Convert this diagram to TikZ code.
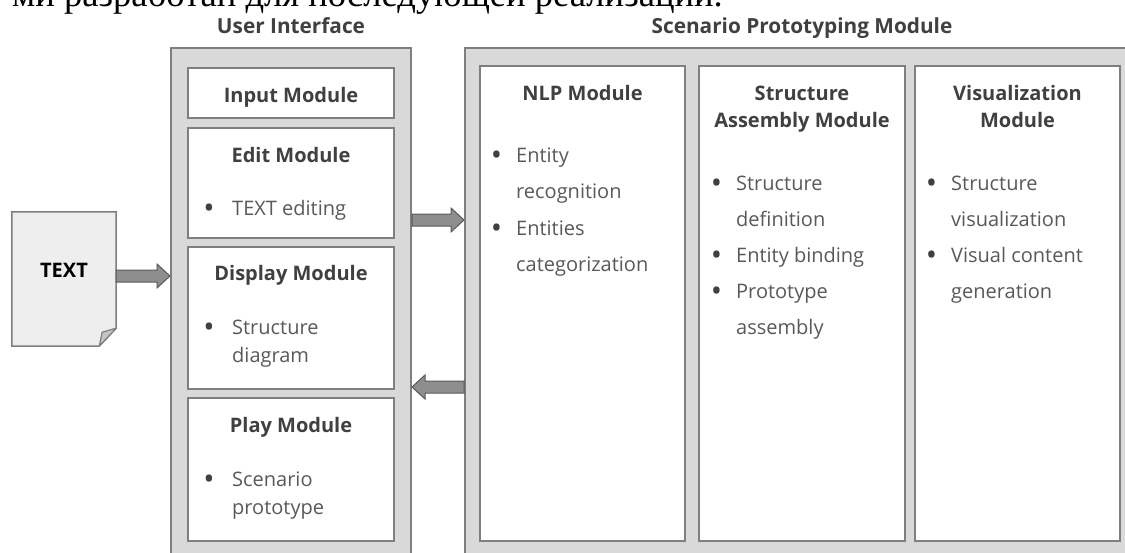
\documentclass[tikz,border=0pt]{standalone}
\usepackage{fontspec}
\setmainfont{Open Sans}
\newfontfamily\serifru{Liberation Serif}
\usetikzlibrary{calc}
\definecolor{outerfill}{HTML}{D9D9D9}
\definecolor{bordergray}{HTML}{7F7F7F}
\definecolor{headcol}{HTML}{404040}
\definecolor{bodycol}{HTML}{595959}
\definecolor{arrfill}{HTML}{8E8E8E}
\definecolor{arrdraw}{HTML}{5A5A5A}
\definecolor{docfill}{HTML}{EEEEEE}
\definecolor{foldfill}{HTML}{C4C4C4}
\tikzset{
  outerbox/.style={draw=bordergray, line width=2pt, fill=outerfill, inner sep=0pt},
  innerbox/.style={draw=bordergray, line width=1.5pt, fill=white, inner sep=0pt},
  head/.style={font=\fontsize{20}{27}\selectfont\bfseries, text=headcol, inner sep=0pt, anchor=base, align=center},
  title/.style={head, font=\fontsize{20.8}{27}\selectfont\bfseries},
  itemui/.style={font=\fontsize{20}{28}\selectfont, text=bodycol, inner sep=0pt, anchor=base west, align=left},
  itemsp/.style={font=\fontsize{20}{36}\selectfont, text=bodycol, inner sep=0pt, anchor=base west, align=left},
  blockarr/.style={fill=arrfill, draw=arrdraw, line width=1pt, line join=miter},
}
\newcommand\bul[1]{\llap{\raisebox{-3.2pt}{\textcolor{headcol}{\scalebox{1.5}{\textbullet}}}\hspace{#1pt}}}
\newcommand\blockR[2]{\draw[blockarr] ($(#1)+(0,-6)$) -- ($(#2)+(-13,-6)$) -- ($(#2)+(-13,-12)$) -- (#2) -- ($(#2)+(-13,12)$) -- ($(#2)+(-13,6)$) -- ($(#1)+(0,6)$) -- cycle;}
\newcommand\blockL[2]{\draw[blockarr] ($(#1)+(0,-6)$) -- ($(#2)+(13,-6)$) -- ($(#2)+(13,-12)$) -- (#2) -- ($(#2)+(13,12)$) -- ($(#2)+(13,6)$) -- ($(#1)+(0,6)$) -- cycle;}
\begin{document}
\begin{tikzpicture}[x=1pt,y=-1pt]
\useasboundingbox (0,0) rectangle (1125,552);
\clip (0,0) rectangle (1125,552);
\fill[white] (0,0) rectangle (1125,552);

% cut-off line of text above the figure
\node[font=\serifru\fontsize{36.6}{40}\selectfont, text=black, inner sep=0pt, anchor=base west] (topline) at (12,6) {ми разработан для последующей реализации.};

% titles
\node[title] (uititle) at (291,33) {User Interface};
\node[title] (sptitle) at (802,33) {Scenario Prototyping Module};

% outer containers
\node[outerbox, minimum width=240pt, minimum height=532pt] (ui) at (291,314) {};
\node[outerbox, minimum width=675pt, minimum height=532pt] (spm) at (802.5,314) {};

% UI inner boxes
\node[innerbox, minimum width=206pt, minimum height=50pt] (input) at (291,93) {};
\node[innerbox, minimum width=206pt, minimum height=110pt] (edit) at (291,183) {};
\node[innerbox, minimum width=206pt, minimum height=142pt] (display) at (291,318) {};
\node[innerbox, minimum width=206pt, minimum height=143pt] (play) at (291,469.5) {};

\node[head] (inputh) at (291,102) {Input Module};
\node[head] (edith) at (291,162) {Edit Module};
\node[itemui] (edit1) at (232,215) {\bul{17.5}TEXT editing};
\node[head] (displayh) at (291,280) {Display Module};
\node[itemui] (display1) at (232,362) {\bul{17.5}Structure\\diagram};
\node[head] (playh) at (291,432) {Play Module};
\node[itemui] (play1) at (232,514) {\bul{17.5}Scenario\\prototype};

% SPM inner boxes
\node[innerbox, minimum width=205pt, minimum height=475pt] (nlp) at (582.5,303.5) {};
\node[innerbox, minimum width=206pt, minimum height=475pt] (sam) at (802,303.5) {};
\node[innerbox, minimum width=205pt, minimum height=475pt] (vis) at (1017.5,303.5) {};

\node[head] (nlph) at (582.5,100) {NLP Module};
\node[itemsp] (nlp1) at (516,198) {\bul{14}Entity\\recognition};
\node[itemsp] (nlp2) at (516,271) {\bul{14}Entities\\categorization};

\node[head] (samh) at (802,127) {Structure\\Assembly Module};
\node[itemsp] (sam1) at (736,226) {\bul{14}Structure\\definition};
\node[itemsp] (sam2) at (736,262) {\bul{14}Entity binding};
\node[itemsp] (sam3) at (736,334) {\bul{14}Prototype\\assembly};

\node[head] (vish) at (1017.5,127) {Visualization\\Module};
\node[itemsp] (vis1) at (951,226) {\bul{14}Structure\\visualization};
\node[itemsp] (vis2) at (951,298) {\bul{14}Visual content\\generation};

% TEXT document
\node[minimum width=104pt, minimum height=134pt, inner sep=0pt] (doc) at (64,279) {};
\draw[draw=bordergray, line width=1.5pt, fill=docfill, line join=miter]
  (doc.north west) -- (doc.north east) -- ($(doc.south east)+(0,-18)$) -- ($(doc.south east)+(-17,0)$) -- (doc.south west) -- cycle;
\draw[draw=bordergray, line width=1.2pt, fill=foldfill, line join=round]
  ($(doc.south east)+(0,-18)$) -- ($(doc.south east)+(-14,-14)$) -- ($(doc.south east)+(-17,0)$) -- cycle;
\node[font=\fontsize{20}{24}\selectfont\bfseries, text=black, inner sep=0pt] (doctext) at (64,270) {TEXT};

% block arrows
\coordinate (a1s) at (doc.east |- 0,276);
\coordinate (a1e) at (ui.west |- 0,276);
\blockR{a1s}{a1e}
\coordinate (a2s) at (ui.east |- 0,220);
\coordinate (a2e) at (spm.west |- 0,220);
\blockR{a2s}{a2e}
\coordinate (a3s) at (spm.west |- 0,387);
\coordinate (a3e) at (ui.east |- 0,387);
\blockL{a3s}{a3e}
\end{tikzpicture}
\end{document}
